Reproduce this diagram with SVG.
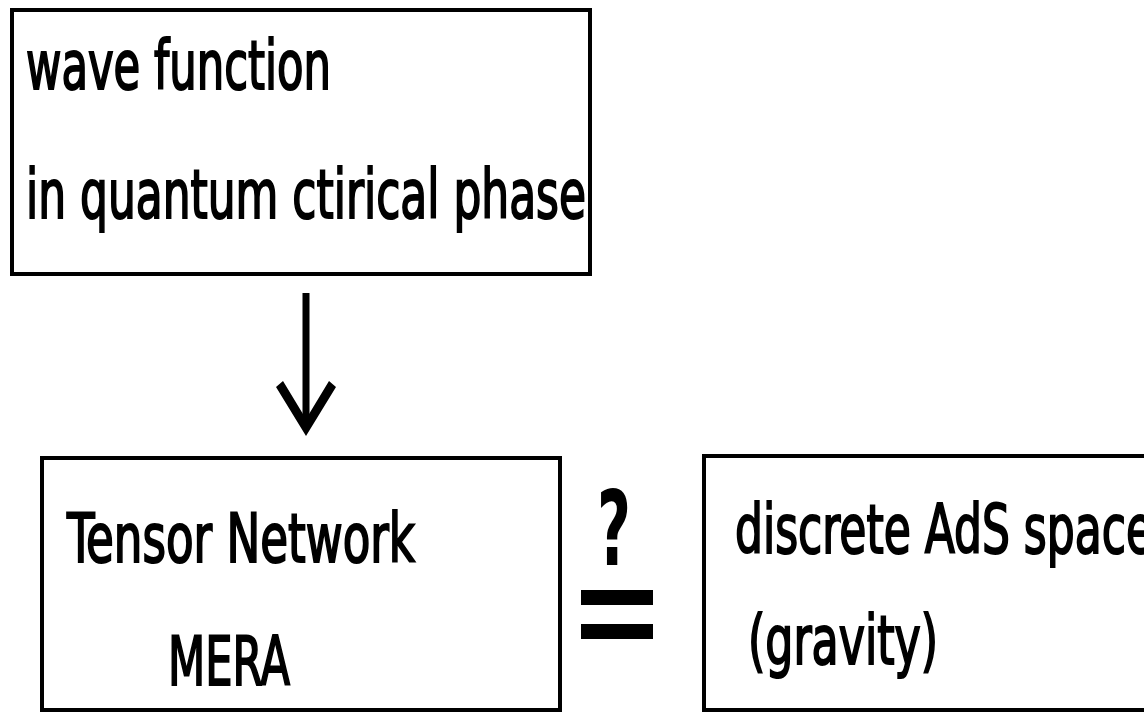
<svg xmlns="http://www.w3.org/2000/svg" width="1144" height="714" viewBox="0 0 1144 714">
  <style>
    .box { fill: #ffffff; stroke: #000000; stroke-width: 4; }
    .lbl { font-family: "DejaVu Sans Condensed", "DejaVu Sans", sans-serif; font-size: 68px; fill: #000000; stroke: #000000; stroke-width: 2; }
    .mark { font-family: "DejaVu Sans Condensed", "DejaVu Sans", sans-serif; font-weight: bold; font-size: 104px; fill: #000000; }
    .edge { fill: none; stroke: #000000; stroke-width: 7; }
  </style>
  <rect x="0" y="0" width="1144" height="714" fill="#ffffff"/>

  <g id="node-wavefunction">
    <rect class="box" x="12" y="10" width="578" height="264"/>
    <text class="lbl" x="26" y="89" textLength="305" lengthAdjust="spacingAndGlyphs">wave function</text>
    <text class="lbl" x="26" y="218" textLength="560" lengthAdjust="spacingAndGlyphs">in quantum ctirical phase</text>
  </g>

  <g id="node-mera">
    <rect class="box" x="42" y="458" width="518" height="252"/>
    <text class="lbl" x="67" y="562" textLength="348" lengthAdjust="spacingAndGlyphs">Tensor Network</text>
    <text class="lbl" x="168" y="685" textLength="122" lengthAdjust="spacingAndGlyphs">MERA</text>
  </g>

  <g id="node-ads">
    <rect class="box" x="704" y="456" width="460" height="254"/>
    <text class="lbl" x="735" y="553" textLength="418" lengthAdjust="spacingAndGlyphs">discrete AdS space</text>
    <text class="lbl" x="748" y="664" textLength="190" lengthAdjust="spacingAndGlyphs">(gravity)</text>
  </g>

  <g id="connectors">
    <line class="edge" x1="306" y1="293" x2="306" y2="425"/>
    <polygon points="276,387 283,381 306,419 329,381 336,387 306,436" fill="#000000"/>
    <text class="mark" x="597" y="565" textLength="34" lengthAdjust="spacingAndGlyphs">?</text>
    <rect x="581" y="590" width="72" height="15" fill="#000000"/>
    <rect x="581" y="624" width="72" height="15" fill="#000000"/>
  </g>
</svg>
